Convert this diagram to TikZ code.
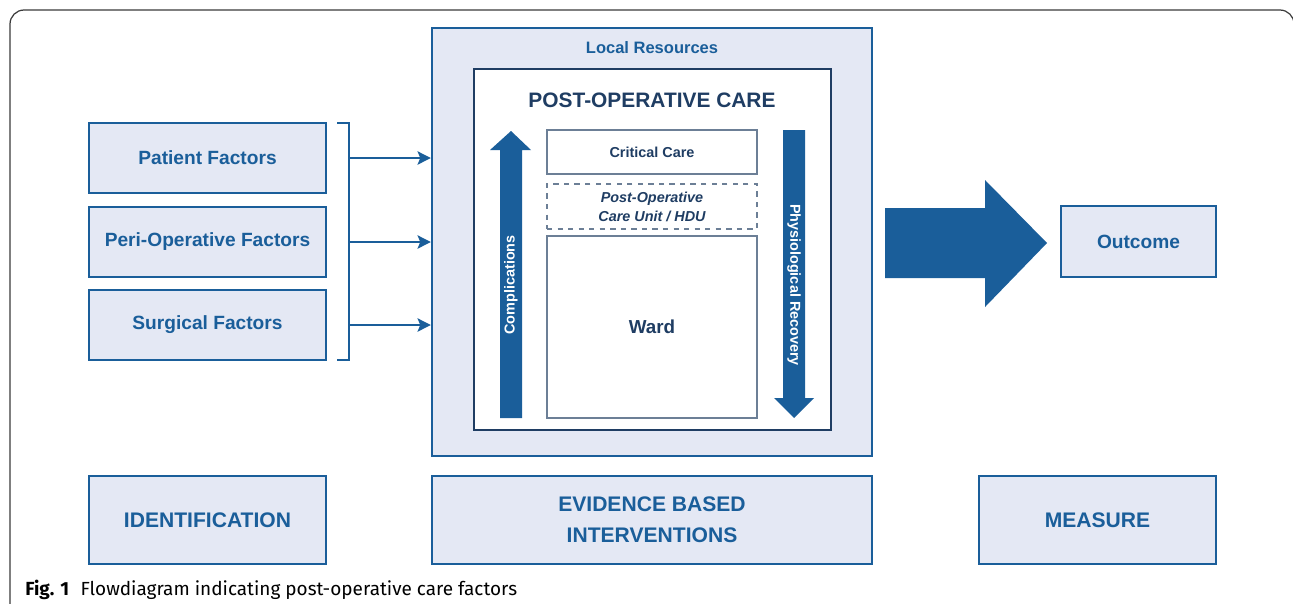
\documentclass[tikz,border=0pt]{standalone}
\usepackage{fontspec}
\setmainfont{Liberation Sans}
\newfontfamily\captionfont{Fira Sans}
\usetikzlibrary{positioning}
\usetikzlibrary{arrows.meta}

\definecolor{boxblue}{HTML}{1A5E9A}
\definecolor{boxfill}{HTML}{E4E8F4}
\definecolor{navy}{HTML}{1F3D63}
\definecolor{unitgrey}{HTML}{6C7F96}
\definecolor{framegrey}{HTML}{3A3A3A}

\tikzset{
  factorbox/.style={draw=boxblue,line width=1.4pt,fill=boxfill,text=boxblue,
    font=\bfseries\fontsize{10.9}{13}\selectfont,inner sep=0pt,align=center},
  stagebox/.style={factorbox,font=\bfseries\fontsize{12}{17.6}\selectfont},
  unitbox/.style={draw=unitgrey,line width=0.8pt,fill=white,text=navy,
    font=\bfseries\fontsize{8.2}{10.8}\selectfont,inner sep=0pt,align=center},
  flowarrow/.style={draw=boxblue,line width=1.6pt,-{Stealth[length=7.5pt,width=7.5pt,inset=1.5pt]}},
  blockarrow/.style={fill=boxblue},
  arrowtext/.style={text=white,font=\bfseries\fontsize{8.2}{10}\selectfont,inner sep=0pt}
}

\begin{document}
\begin{tikzpicture}[x=0.02cm,y=-0.02cm]
  \useasboundingbox (0,0) rectangle (1293,603);

  % figure frame
  \draw [framegrey,line width=0.7pt,rounded corners=8] (10,610) -- (10,10) -- (1294,10) -- (1294,610);

  % factors on the left
  \node [factorbox,minimum width=4.74cm,minimum height=1.4cm] (patient)  at (207.5,158) {Patient Factors};
  \node [factorbox,minimum width=4.74cm,minimum height=1.4cm] (peri)     at (207.5,242) {Peri-Operative Factors};
  \node [factorbox,minimum width=4.74cm,minimum height=1.4cm] (surgical) at (207.5,325) {Surgical Factors};

  % local resources and post-operative care
  \node [factorbox,minimum width=8.8cm,minimum height=8.56cm] (local) at (652,242) {};
  \node [text=boxblue,font=\bfseries\fontsize{9.4}{11}\selectfont] (localtitle) at (652,48) {Local Resources};
  \node [draw=navy,line width=1.1pt,fill=white,minimum width=7.14cm,minimum height=7.22cm,inner sep=0pt] (care) at (652.5,249.5) {};
  \node [text=navy,font=\bfseries\fontsize{11.9}{14}\selectfont] (caretitle) at (652,100) {POST-OPERATIVE CARE};

  \node [unitbox,minimum width=4.2cm,minimum height=0.88cm] (critical) at (652,152) {Critical Care};
  \node [unitbox,dashed,minimum width=4.2cm,minimum height=0.9cm,font=\bfseries\itshape\fontsize{8.2}{10.8}\selectfont] (pacu) at (652,206.5) {Post-Operative\\Care Unit / HDU};
  \node [unitbox,minimum width=4.2cm,minimum height=3.64cm,font=\bfseries\fontsize{10.7}{13}\selectfont] (ward) at (652,327) {Ward};

  % complications and recovery
  \fill [blockarrow] (500,418) -- (500,150) -- (490,150) -- (511,131) -- (531,150) -- (522,150) -- (522,418) -- cycle;
  \node [arrowtext,rotate=90] (complications) at (511,285) {Complications};
  \fill [blockarrow] (783,130) -- (783,398) -- (774,398) -- (794,418) -- (814,398) -- (805,398) -- (805,130) -- cycle;
  \node [arrowtext,rotate=-90] (recovery) at (794,285) {Physiological Recovery};

  % bracket and arrows into local resources
  \coordinate (brk) at (349,0);
  \draw [boxblue,line width=1.6pt] (337,123) -- (349,123) -- (349,360) -- (337,360);
  \draw [flowarrow] (patient.east -| brk)  -- (patient.east -| local.west);
  \draw [flowarrow] (peri.east -| brk)     -- (peri.east -| local.west);
  \draw [flowarrow] (surgical.east -| brk) -- (surgical.east -| local.west);

  % outcome
  \fill [blockarrow] (885,208) -- (985,208) -- (985,180) -- (1047,243) -- (985,307) -- (985,278) -- (885,278) -- cycle;
  \node [factorbox,minimum width=3.1cm,minimum height=1.42cm] (outcome) at (1138.5,241.5) {Outcome};

  % stages
  \node [stagebox,minimum width=4.74cm,minimum height=1.76cm] (ident)    at (207.5,520) {IDENTIFICATION};
  \node [stagebox,minimum width=8.8cm,minimum height=1.76cm]  (evidence) at (652,520)   {EVIDENCE BASED\\INTERVENTIONS};
  \node [stagebox,minimum width=4.74cm,minimum height=1.76cm] (measure)  at (1097.5,520) {MEASURE};

  % caption
  \node [anchor=base west,inner sep=0pt,font=\captionfont\fontsize{10.8}{13}\selectfont] (caption) at (25,595)
    {\textbf{Fig. 1}\hspace{0.6em}Flowdiagram indicating post-operative care factors};
\end{tikzpicture}
\end{document}
